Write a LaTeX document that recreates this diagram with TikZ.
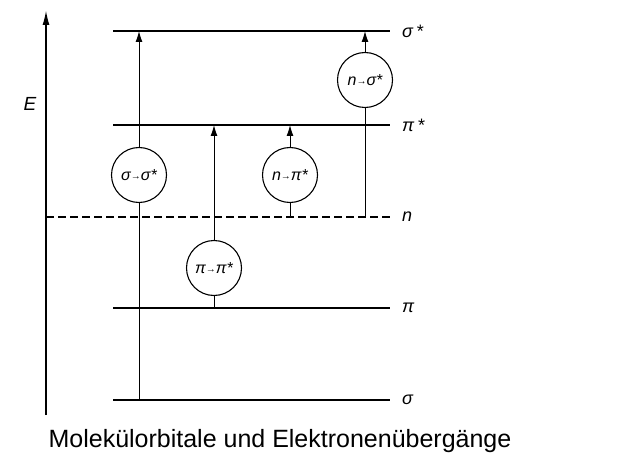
\documentclass[tikz,border=0pt]{standalone}
\usepackage{fontspec}
\setmainfont{Liberation Sans}
\usetikzlibrary{arrows.meta,shapes.geometric}
\newcommand{\tr}{{\fontsize{10}{10}\selectfont\raisebox{0.8pt}{→}}}
\begin{document}
\begin{tikzpicture}[x=1pt,y=-1pt,
  levelline/.style={line width=1.4pt},
  transline/.style={line width=1pt},
  arr/.style={transline,-{Latex[length=11pt,width=7pt]}},
  circ/.style={draw,circle,minimum size=55pt,inner sep=0pt,line width=1.1pt,
    font=\itshape\fontsize{16}{16}\selectfont},
  lab/.style={anchor=west,inner sep=0pt,font=\itshape\fontsize{18}{18}\selectfont}]
\useasboundingbox (0,0) rectangle (620,465);
% axis
\coordinate (ax0) at (46,415);
\coordinate (ax1) at (46,10);
\draw[line width=1.8pt,-{Latex[length=15pt,width=7pt]}] (ax0) -- (ax1);
\node[font=\itshape\fontsize{19}{19}\selectfont] (E) at (30,104) {E};
% levels
\coordinate (ss0) at (113,31);  \coordinate (ss1) at (390,31);
\coordinate (pp0) at (113,125); \coordinate (pp1) at (390,125);
\coordinate (n0)  at (46,217);  \coordinate (n1)  at (390,217);
\coordinate (p0)  at (113,308); \coordinate (p1)  at (390,308);
\coordinate (s0)  at (113,400); \coordinate (s1)  at (390,400);
\draw[levelline] (ss0) -- (ss1);
\draw[levelline] (pp0) -- (pp1);
\draw[levelline,dashed,dash pattern=on 8pt off 4pt] (n0) -- (n1);
\draw[levelline] (p0) -- (p1);
\draw[levelline] (s0) -- (s1);
\node[lab] (lss) at (402,31) {σ\,*};
\node[lab] (lpp) at (402,125) {π\,*};
\node[lab] (ln)  at (402,217) {n};
\node[lab] (lp)  at (402,308) {π};
\node[lab] (ls)  at (402,400) {σ};
% transitions
\coordinate (a0) at (139,400); \coordinate (a1) at (139,31);
\coordinate (b0) at (214,308); \coordinate (b1) at (214,125);
\coordinate (c0) at (290,217); \coordinate (c1) at (290,125);
\coordinate (d0) at (365,217); \coordinate (d1) at (365,31);
\node[circ,fill=white] (A) at (139,175) {σ\tr σ*};
\node[circ,fill=white] (B) at (214,268) {π\tr π*};
\node[circ,fill=white] (C) at (290,175) {n\tr π*};
\node[circ,fill=white] (D) at (365,80)  {n\tr σ*};
\draw[transline] (a0) -- (A); \draw[arr] (A) -- (a1);
\draw[transline] (b0) -- (B); \draw[arr] (B) -- (b1);
\draw[transline] (c0) -- (C); \draw[arr] (C) -- (c1);
\draw[transline] (d0) -- (D); \draw[arr] (D) -- (d1);
% caption
\node[font=\fontsize{25}{25}\selectfont] (cap) at (280,441) {Molekülorbitale und Elektronenübergänge};
\end{tikzpicture}
\end{document}
